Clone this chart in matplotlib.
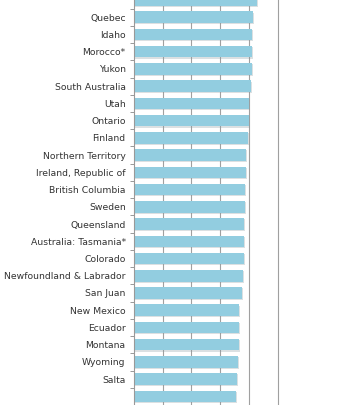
import matplotlib.pyplot as plt
import matplotlib.patheffects as pe

# rows top to bottom; first and last rows are cut off in the view
labels = ["", "Quebec", "Idaho", "Morocco*", "Yukon", "South Australia", "Utah",
          "Ontario", "Finland", "Northern Territory", "Ireland, Republic of",
          "British Columbia", "Sweden", "Queensland", "Australia: Tasmania*",
          "Colorado", "Newfoundland & Labrador", "San Juan", "New Mexico",
          "Ecuador", "Montana", "Wyoming", "Salta", ""]
values = [85.7, 82.7, 82.4, 82.4, 82.4, 81.5, 79.9, 79.9, 79.2, 78.1, 78.1,
          77.6, 77.1, 76.9, 76.7, 76.4, 75.7, 75.0, 73.0, 73.0, 73.0, 72.3,
          71.8, 70.9]
grid_ticks = [20, 40, 60, 80, 100]

fig = plt.figure(figsize=(3.53, 4.05), dpi=100)
ax = fig.add_axes([134 / 353, 0, 1 - 134 / 353, 1])

rows = list(range(len(labels)))
bars = ax.barh(rows, values, height=0.67, color="#92cde0", zorder=2)
for b in bars:
    b.set_path_effects([pe.withSimplePatchShadow(offset=(0.8, -0.8), shadow_rgbFace="#8a9aa0", alpha=0.3),
                        pe.Normal()])

ax.set_xlim(0, 152.6)
ax.set_ylim(22.74, 0.167)

for g in grid_ticks:
    ax.axvline(g, color="#a0a0a0", lw=0.8, zorder=1)

ax.set_yticks(rows)
ax.set_yticklabels(labels, fontsize=6.7, color="#333333")
ax.set_yticks([r + 0.5 for r in rows], minor=True)
ax.tick_params(axis="y", which="major", length=0, pad=6)
ax.tick_params(axis="y", which="minor", length=3, width=0.7, color="#999999")
ax.set_xticks([])

for s in ["top", "right", "bottom"]:
    ax.spines[s].set_visible(False)
ax.spines["left"].set_color("#999999")
ax.spines["left"].set_linewidth(0.8)

fig.savefig("out.png", dpi=100)
